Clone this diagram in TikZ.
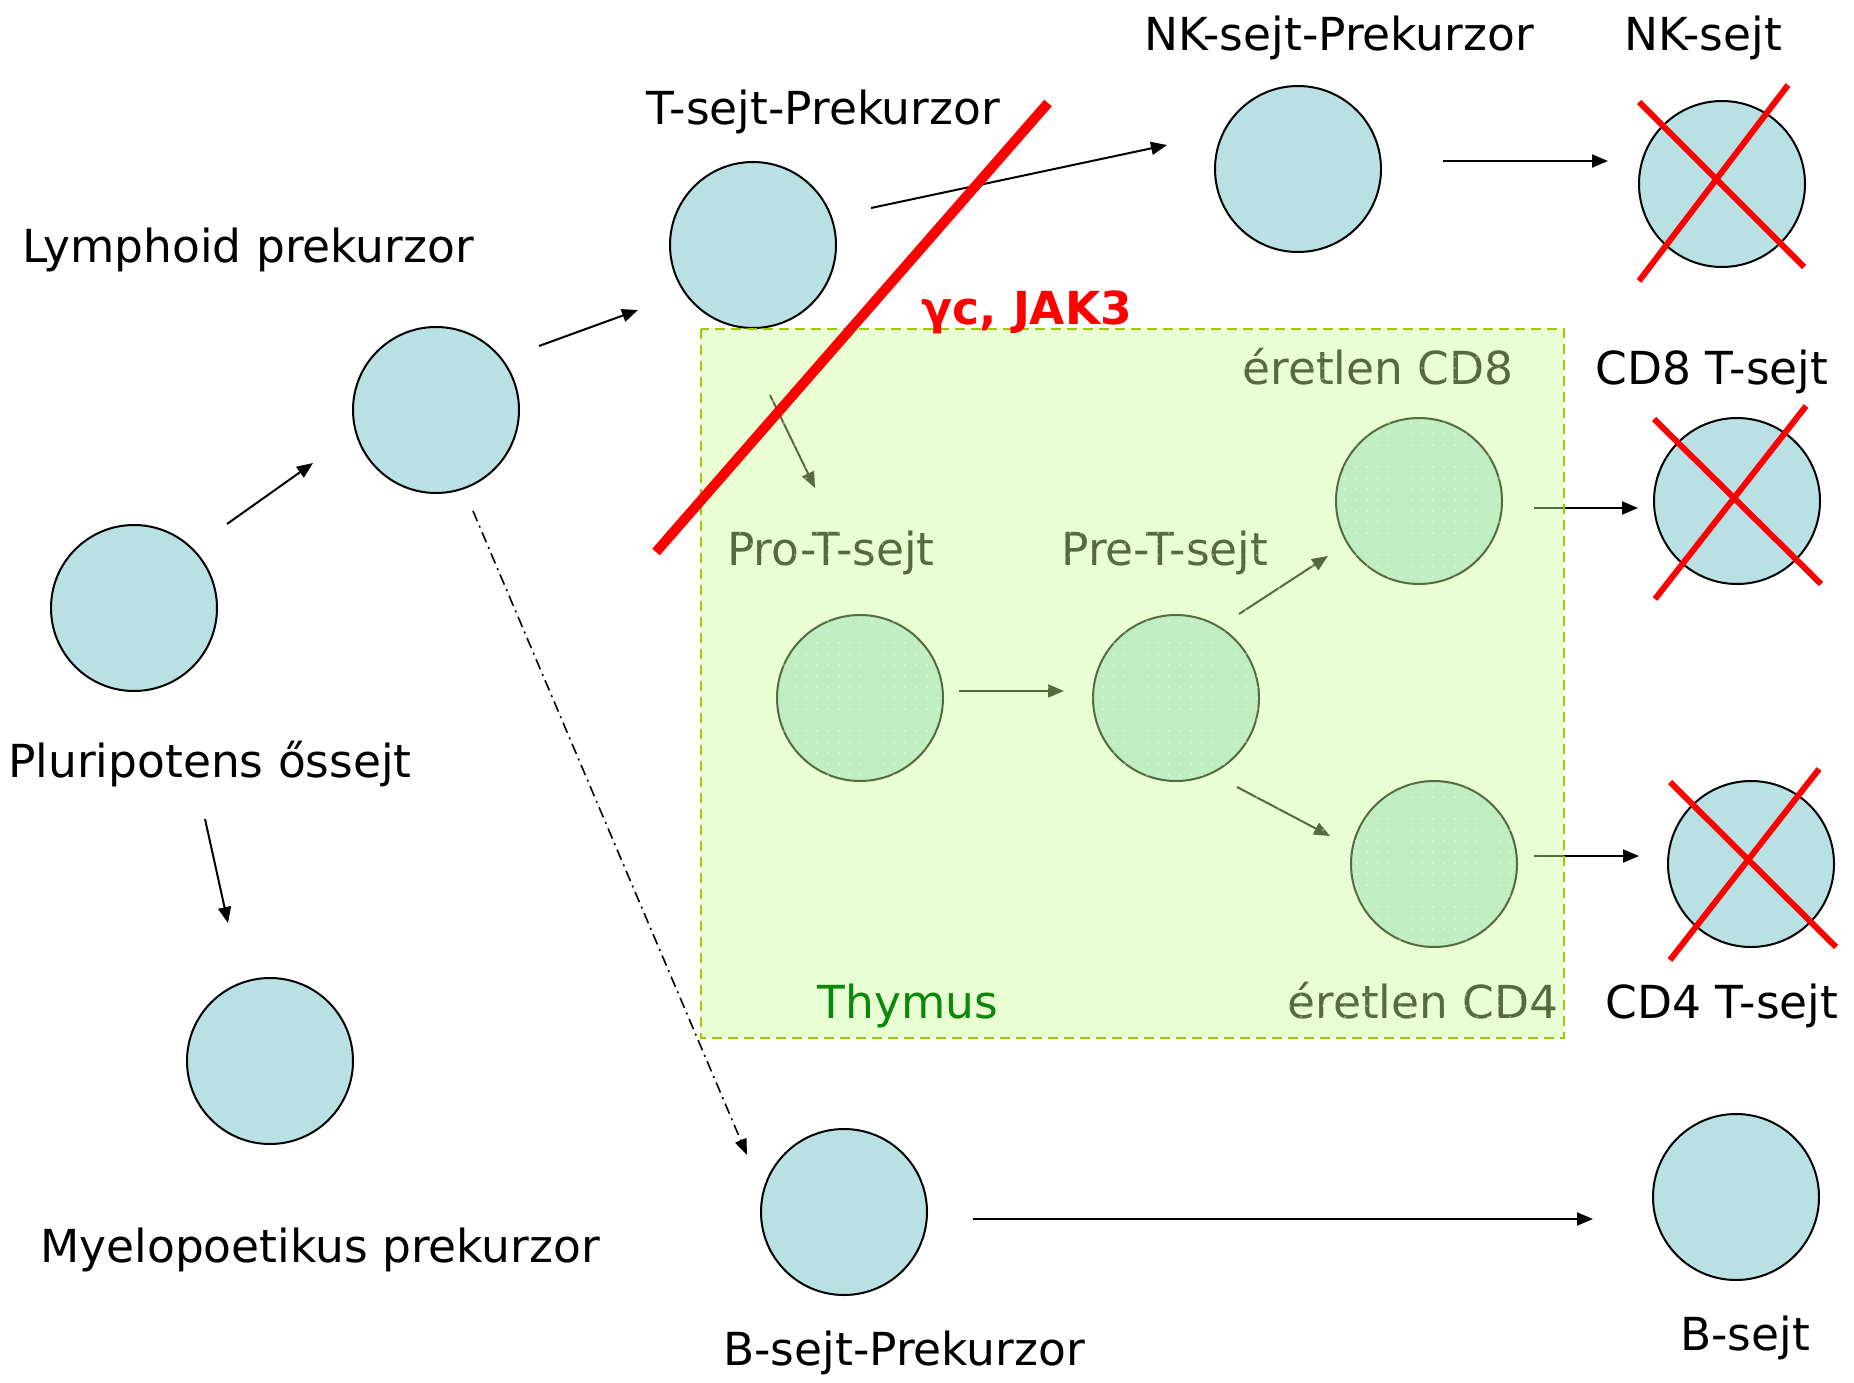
\documentclass[tikz,border=0pt]{standalone}
\usepackage{fontspec}
\setmainfont{DejaVu Sans}
\usetikzlibrary{arrows.meta}
\definecolor{cellblue}{HTML}{B9E0E3}
\definecolor{thyoverlay}{HTML}{CAFF96}
\definecolor{thyborder}{HTML}{99CC00}
\definecolor{thygreen}{HTML}{0A880A}
\definecolor{knockout}{HTML}{FF0000}
\tikzset{
  cell/.style={circle, draw=black, line width=2, fill=cellblue, minimum size=166, inner sep=0},
  lbl/.style={anchor=base, inner sep=0, font=\fontsize{45.5}{54}\selectfont},
  flow/.style={line width=2, -{Triangle[length=16,width=13]}},
  lineage/.style={line width=1.6, dash pattern=on 11 off 5 on 2 off 5, -{Triangle[length=16,width=12]}},
  cross/.style={draw=knockout, line width=6},
  block/.style={draw=knockout, line width=10}
}
\begin{document}
\begin{tikzpicture}[x=1pt,y=-1pt]
\useasboundingbox (0,0) rectangle (1854,1383);

% cells
\node[cell] (pluri) at (134,608) {};
\node[cell] (lymph) at (436,410) {};
\node[cell] (tprek) at (753,245) {};
\node[cell] (nkprek) at (1298,169) {};
\node[cell] (nk) at (1722,184) {};
\node[cell] (cd8i) at (1419,501) {};
\node[cell] (cd8) at (1737,501) {};
\node[cell] (prot) at (860,698) {};
\node[cell] (pret) at (1176,698) {};
\node[cell] (cd4i) at (1434,864) {};
\node[cell] (cd4) at (1751,864) {};
\node[cell] (myelo) at (270,1061) {};
\node[cell] (bprek) at (844,1212) {};
\node[cell] (b) at (1736,1197) {};

% labels
\node[lbl] (tLymph) at (248,262) {Lymphoid prekurzor};
\node[lbl] (tTprek) at (823,125) {T-sejt-Prekurzor};
\node[lbl] (tNKprek) at (1339,51) {NK-sejt-Prekurzor};
\node[lbl] (tNK) at (1703,51) {NK-sejt};
\node[lbl] (tCD8i) at (1378,384) {éretlen CD8};
\node[lbl] (tCD8) at (1712,384) {CD8 T-sejt};
\node[lbl] (tProT) at (831,565) {Pro-T-sejt};
\node[lbl] (tPreT) at (1165,565) {Pre-T-sejt};
\node[lbl] (tPluri) at (210,777) {Pluripotens őssejt};
\node[lbl] (tCD4i) at (1423,1018) {éretlen CD4};
\node[lbl] (tCD4) at (1722,1018) {CD4 T-sejt};
\node[lbl] (tMyelo) at (320,1262) {Myelopoetikus prekurzor};
\node[lbl] (tBprek) at (904,1365) {B-sejt-Prekurzor};
\node[lbl] (tB) at (1745,1350) {B-sejt};

% arrow end points
\coordinate (a1s) at (227,524); \coordinate (a1e) at (313,463);
\coordinate (a2s) at (539,346); \coordinate (a2e) at (638,310);
\coordinate (a3s) at (871,208); \coordinate (a3e) at (1167,145);
\coordinate (a4s) at (1443,161); \coordinate (a4e) at (1608,161);
\coordinate (a5s) at (770,395); \coordinate (a5e) at (815,488);
\coordinate (a6s) at (959,691); \coordinate (a6e) at (1064,691);
\coordinate (a7s) at (1239,614); \coordinate (a7e) at (1328,556);
\coordinate (a8s) at (1237,787); \coordinate (a8e) at (1330,836);
\coordinate (a9s) at (1534,508); \coordinate (a9e) at (1638,508);
\coordinate (a10s) at (1534,856); \coordinate (a10e) at (1639,856);
\coordinate (a11s) at (205,819); \coordinate (a11e) at (228,923);
\coordinate (a12s) at (473,511); \coordinate (a12e) at (747,1155);
\coordinate (a13s) at (973,1219); \coordinate (a13e) at (1593,1219);

\draw[flow] (a1s) -- (a1e);
\draw[flow] (a2s) -- (a2e);
\draw[flow] (a3s) -- (a3e);
\draw[flow] (a4s) -- (a4e);
\draw[flow] (a5s) -- (a5e);
\draw[flow] (a6s) -- (a6e);
\draw[flow] (a7s) -- (a7e);
\draw[flow] (a8s) -- (a8e);
\draw[flow] (a9s) -- (a9e);
\draw[flow] (a10s) -- (a10e);
\draw[flow] (a11s) -- (a11e);
\draw[lineage] (a12s) -- (a12e);
\draw[flow] (a13s) -- (a13e);

% thymus compartment: translucent overlay with faint dots
\fill[thyoverlay, fill opacity=0.42] (701,329) rectangle (1564,1038);
\begin{scope}
  \clip (701,329) rectangle (1564,1038);
  \foreach \xx in {707,718,...,1564} {
    \foreach \yy in {335,346,...,1038} {
      \fill[white, opacity=0.35] (\xx,\yy) circle (1.3);
    }
  }
\end{scope}
\draw[thyborder, line width=2, dash pattern=on 10 off 6] (701,329) rectangle (1564,1038);
\node[lbl, text=thygreen] (tThy) at (908,1018) {Thymus};

% knockout marks
\draw[block] (656,552) -- (1048,103);
\node[lbl, text=knockout, font=\fontsize{45.5}{54}\selectfont\bfseries] (tJak) at (1027,324) {γc, JAK3};
\draw[cross] (1639,102) -- (1804,267);
\draw[cross] (1639,281) -- (1788,85);
\draw[cross] (1654,419) -- (1821,584);
\draw[cross] (1655,599) -- (1806,406);
\draw[cross] (1670,782) -- (1836,947);
\draw[cross] (1670,960) -- (1819,769);
\end{tikzpicture}
\end{document}
